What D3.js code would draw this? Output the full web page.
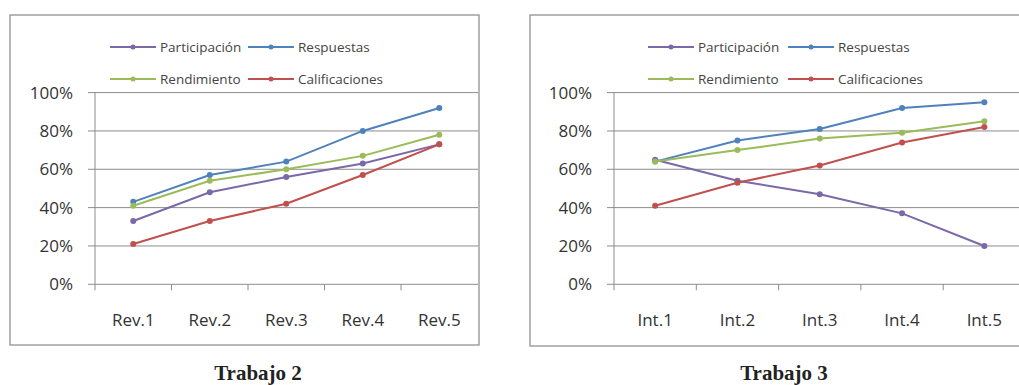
<!DOCTYPE html>
<html><head><meta charset="utf-8">
<script src="https://cdn.jsdelivr.net/npm/d3@7"></script>
<style>body{margin:0;background:#fff;}svg{display:block;}</style>
</head><body>
<svg id="c" width="1019" height="385"></svg>
<script>
const seriesNames = ["Participación", "Respuestas", "Rendimiento", "Calificaciones"];
const seriesColors = ["#7b68a8", "#4f81bd", "#9bbb59", "#c0504d"];
const yTicks = [0, 20, 40, 60, 80, 100];

const cats2 = ["Rev.1", "Rev.2", "Rev.3", "Rev.4", "Rev.5"];
const part2 = [33, 48, 56, 63, 73];
const resp2 = [43, 57, 64, 80, 92];
const rend2 = [41, 54, 60, 67, 78];
const cali2 = [21, 33, 42, 57, 73];
const title2 = "Trabajo 2";

const cats3 = ["Int.1", "Int.2", "Int.3", "Int.4", "Int.5"];
const part3 = [65, 54, 47, 37, 20];
const resp3 = [64, 75, 81, 92, 95];
const rend3 = [64, 70, 76, 79, 85];
const cali3 = [41, 53, 62, 74, 82];
const title3 = "Trabajo 3";

const svg = d3.select("#c");

function drawChart(o) {
  const g = svg.append("g");
  g.append("rect").attr("x", o.fx).attr("y", o.fy).attr("width", o.fw).attr("height", o.fh)
    .attr("fill", "#fff").attr("stroke", "#a0a0a0").attr("stroke-width", 1.5);

  const x = d3.scaleBand().domain(o.cats).range([o.left, o.left + o.band * o.cats.length]);
  const y = d3.scaleLinear().domain([0, 100]).range([284.3, 92.6]);

  g.append("g").selectAll("line").data(yTicks).join("line")
    .attr("x1", o.left - 7).attr("x2", o.gridEnd)
    .attr("y1", d => y(d)).attr("y2", d => y(d))
    .attr("stroke", "#8c8c8c").attr("stroke-width", 1);
  g.append("line").attr("x1", o.left).attr("x2", o.left).attr("y1", y(100)).attr("y2", y(0) + 6)
    .attr("stroke", "#8c8c8c");
  g.append("g").selectAll("line").data(o.cats.slice(1)).join("line")
    .attr("x1", d => x(d)).attr("x2", d => x(d)).attr("y1", y(0)).attr("y2", y(0) + 6)
    .attr("stroke", "#8c8c8c");

  g.append("g").selectAll("text").data(yTicks).join("text")
    .attr("x", o.left - 22).attr("y", d => y(d)).attr("dy", "0.35em")
    .attr("text-anchor", "end").attr("font-family", "Open Sans, sans-serif").attr("font-size", 17)
    .attr("fill", "#333").text(d => d + "%");
  g.append("g").selectAll("text").data(o.cats).join("text")
    .attr("x", d => x(d) + x.bandwidth() / 2).attr("y", 320).attr("dy", "0.35em")
    .attr("text-anchor", "middle").attr("font-family", "Open Sans, sans-serif").attr("font-size", 17)
    .attr("fill", "#333").text(d => d);

  const line = d3.line().x((d, i) => x(o.cats[i]) + x.bandwidth() / 2).y(d => y(d));
  o.series.forEach((s, k) => {
    g.append("path").attr("d", line(s)).attr("fill", "none")
      .attr("stroke", seriesColors[k]).attr("stroke-width", 2);
  });
  o.series.forEach((s, k) => {
    g.append("g").selectAll("circle").data(s).join("circle")
      .attr("cx", (d, i) => x(o.cats[i]) + x.bandwidth() / 2).attr("cy", d => y(d)).attr("r", 3)
      .attr("fill", seriesColors[k]);
  });

  const lg = g.append("g");
  const pos = [[o.lx1, 47], [o.lx2, 47], [o.lx1, 79], [o.lx2, 79]];
  seriesNames.forEach((n, k) => {
    const [lx, ly] = pos[k];
    lg.append("line").attr("x1", lx).attr("x2", lx + 46).attr("y1", ly).attr("y2", ly)
      .attr("stroke", seriesColors[k]).attr("stroke-width", 2);
    lg.append("circle").attr("cx", lx + 23).attr("cy", ly).attr("r", 2.5).attr("fill", seriesColors[k]);
    lg.append("text").attr("x", lx + 50).attr("y", ly).attr("dy", "0.35em")
      .attr("font-family", "Open Sans, sans-serif").attr("font-size", 13.5).attr("fill", "#444").text(n);
  });

  g.append("text").attr("x", o.tx).attr("y", 380).attr("text-anchor", "middle")
    .attr("font-family", "Liberation Serif, serif").attr("font-weight", "bold").attr("font-size", 21)
    .attr("fill", "#222").text(o.title);
}

drawChart({cats: cats2, series: [part2, resp2, rend2, cali2], title: title2,
  fx: 10, fy: 15, fw: 469, fh: 330, left: 95, band: 76.5, gridEnd: 478,
  lx1: 110, lx2: 248, tx: 258});
drawChart({cats: cats3, series: [part3, resp3, rend3, cali3], title: title3,
  fx: 530, fy: 15, fw: 500, fh: 331, left: 614, band: 82.3, gridEnd: 1019,
  lx1: 648, lx2: 788, tx: 784});
</script>
</body></html>
